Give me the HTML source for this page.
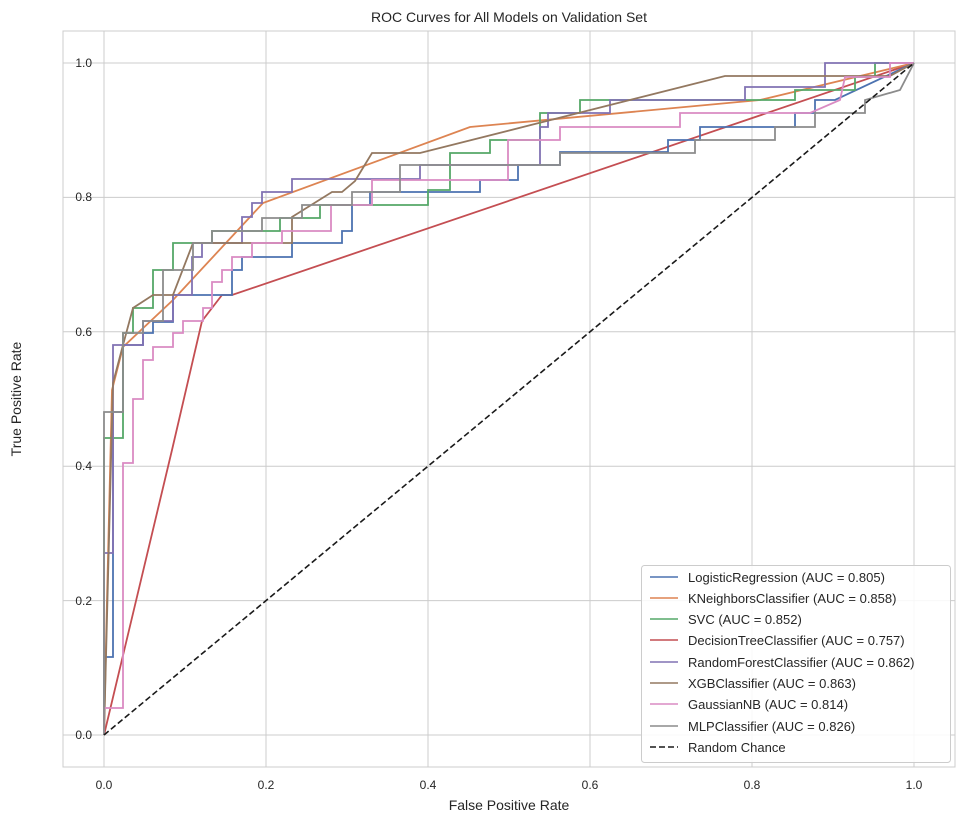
<!DOCTYPE html>
<html><head><meta charset="utf-8"><style>body{margin:0;background:#fff}svg{display:block;font-family:"Liberation Sans",sans-serif}</style></head><body>
<svg width="965" height="825" viewBox="0 0 965 825">
<rect width="965" height="825" fill="#fff"/>
<g stroke="#cccccc" stroke-width="1">
<line x1="104" y1="31" x2="104" y2="767"/><line x1="266" y1="31" x2="266" y2="767"/><line x1="428" y1="31" x2="428" y2="767"/><line x1="590" y1="31" x2="590" y2="767"/><line x1="752" y1="31" x2="752" y2="767"/><line x1="914" y1="31" x2="914" y2="767"/>
<line x1="63" y1="735" x2="955" y2="735"/><line x1="63" y1="600.6" x2="955" y2="600.6"/><line x1="63" y1="466.2" x2="955" y2="466.2"/><line x1="63" y1="331.8" x2="955" y2="331.8"/><line x1="63" y1="197.4" x2="955" y2="197.4"/><line x1="63" y1="63" x2="955" y2="63"/>
<rect x="63" y="31" width="892" height="736" fill="none"/>
</g>
<g font-size="12" fill="#262626" text-anchor="middle">
<text x="104" y="789">0.0</text><text x="266" y="789">0.2</text><text x="428" y="789">0.4</text><text x="590" y="789">0.6</text><text x="752" y="789">0.8</text><text x="914" y="789">1.0</text>
</g>
<g font-size="12" fill="#262626" text-anchor="end">
<text x="92" y="739">0.0</text><text x="92" y="605">0.2</text><text x="92" y="470">0.4</text><text x="92" y="336">0.6</text><text x="92" y="201">0.8</text><text x="92" y="67">1.0</text>
</g>
<text x="509" y="22" font-size="14" text-anchor="middle" fill="#262626">ROC Curves for All Models on Validation Set</text>
<text x="509" y="810" font-size="14" text-anchor="middle" fill="#262626">False Positive Rate</text>
<text x="21" y="399" font-size="14" text-anchor="middle" fill="#262626" transform="rotate(-90 21 399)">True Positive Rate</text>
<g fill="none" stroke-width="1.8">
<polyline stroke="#c44e52" points="104,735 172,450 202,321 222,295 232,295 914,63"/>
<polyline stroke="#dd8452" points="104,735 107,600 112,390 123,347 173,300 263,203 470,127 760,100 914,63"/>
<polyline stroke="#4c72b0" points="104,735 104,657 113,657 113,412 123,412 123,345 143,345 143,333 153,333 153,322 173,322 173,295 232,295 232,270 242,270 242,257 292,257 292,243 342,243 342,231 352,231 352,205 370,205 370,192 480,192 480,180 518,180 518,165 560,165 560,152 668,152 668,140 700,140 700,127 795,127 795,113 815,113 815,100 835,100 914,63"/>
<polyline stroke="#55a868" points="104,735 104,438 123,438 123,333 133,333 133,308 153,308 153,270 173,270 173,243 212,243 212,231 280,231 280,218 320,218 320,205 428,205 428,190 450,190 450,153 490,153 490,140 540,140 540,113 580,113 580,100 795,100 795,90 855,90 855,77 875,77 875,63 914,63"/>
<polyline stroke="#8172b3" points="104,735 104,553 113,553 113,373 113,345 143,345 143,321 173,321 173,295 192,295 192,257 202,257 202,243 242,243 242,217 252,217 252,203 262,203 262,192 292,192 292,179 420,179 420,165 540,165 540,127 548,127 548,113 610,113 610,100 745,100 745,87 825,87 825,63 914,63"/>
<polyline stroke="#937860" points="104,735 113,383 123,345 133,308 153,295 173,295 193,243 242,243 292,243 292,217 332,192 342,192 355,181 372,153 420,153 725,76 890,76 914,63"/>
<polyline stroke="#da8bc3" points="104,735 104,708 123,708 123,463 133,463 133,399 143,399 143,360 153,360 153,347 173,347 173,333 183,333 183,321 203,321 203,308 212,308 212,282 222,282 222,270 232,270 232,257 252,257 252,243 282,243 282,231 331,231 331,205 372,205 372,180 508,180 508,140 560,140 560,127 680,127 680,113 810,113 840,100 845,77 890,77 890,63 914,63"/>
<polyline stroke="#8c8c8c" points="104,735 104,412 123,412 123,333 143,333 143,321 163,321 163,270 193,270 193,243 212,243 212,231 262,231 262,218 302,218 302,205 352,205 352,192 400,192 400,165 560,165 560,153 695,153 695,140 775,140 775,127 815,127 815,113 865,113 865,100 900,90 914,63"/>
<line x1="104" y1="735" x2="914" y2="63" stroke="#1a1a1a" stroke-width="1.6" stroke-dasharray="6,3"/>
</g>
<rect x="641.5" y="565.5" width="309" height="197" rx="3" fill="#fff" fill-opacity="0.85" stroke="#cccccc"/>
<g stroke-width="1.6">
<line x1="650" x2="678" y1="577" y2="577" stroke="#4c72b0"/>
<line x1="650" x2="678" y1="598" y2="598" stroke="#dd8452"/>
<line x1="650" x2="678" y1="619" y2="619" stroke="#55a868"/>
<line x1="650" x2="678" y1="640" y2="640" stroke="#c44e52"/>
<line x1="650" x2="678" y1="662" y2="662" stroke="#8172b3"/>
<line x1="650" x2="678" y1="683" y2="683" stroke="#937860"/>
<line x1="650" x2="678" y1="704" y2="704" stroke="#da8bc3"/>
<line x1="650" x2="678" y1="726" y2="726" stroke="#8c8c8c"/>
<line x1="650" x2="678" y1="747" y2="747" stroke="#1a1a1a" stroke-dasharray="6,3"/>
</g>
<g font-size="13" fill="#262626">
<text x="688" y="582">LogisticRegression (AUC = 0.805)</text>
<text x="688" y="603">KNeighborsClassifier (AUC = 0.858)</text>
<text x="688" y="624">SVC (AUC = 0.852)</text>
<text x="688" y="645">DecisionTreeClassifier (AUC = 0.757)</text>
<text x="688" y="667">RandomForestClassifier (AUC = 0.862)</text>
<text x="688" y="688">XGBClassifier (AUC = 0.863)</text>
<text x="688" y="709">GaussianNB (AUC = 0.814)</text>
<text x="688" y="731">MLPClassifier (AUC = 0.826)</text>
<text x="688" y="752">Random Chance</text>
</g>
</svg>
</body></html>
